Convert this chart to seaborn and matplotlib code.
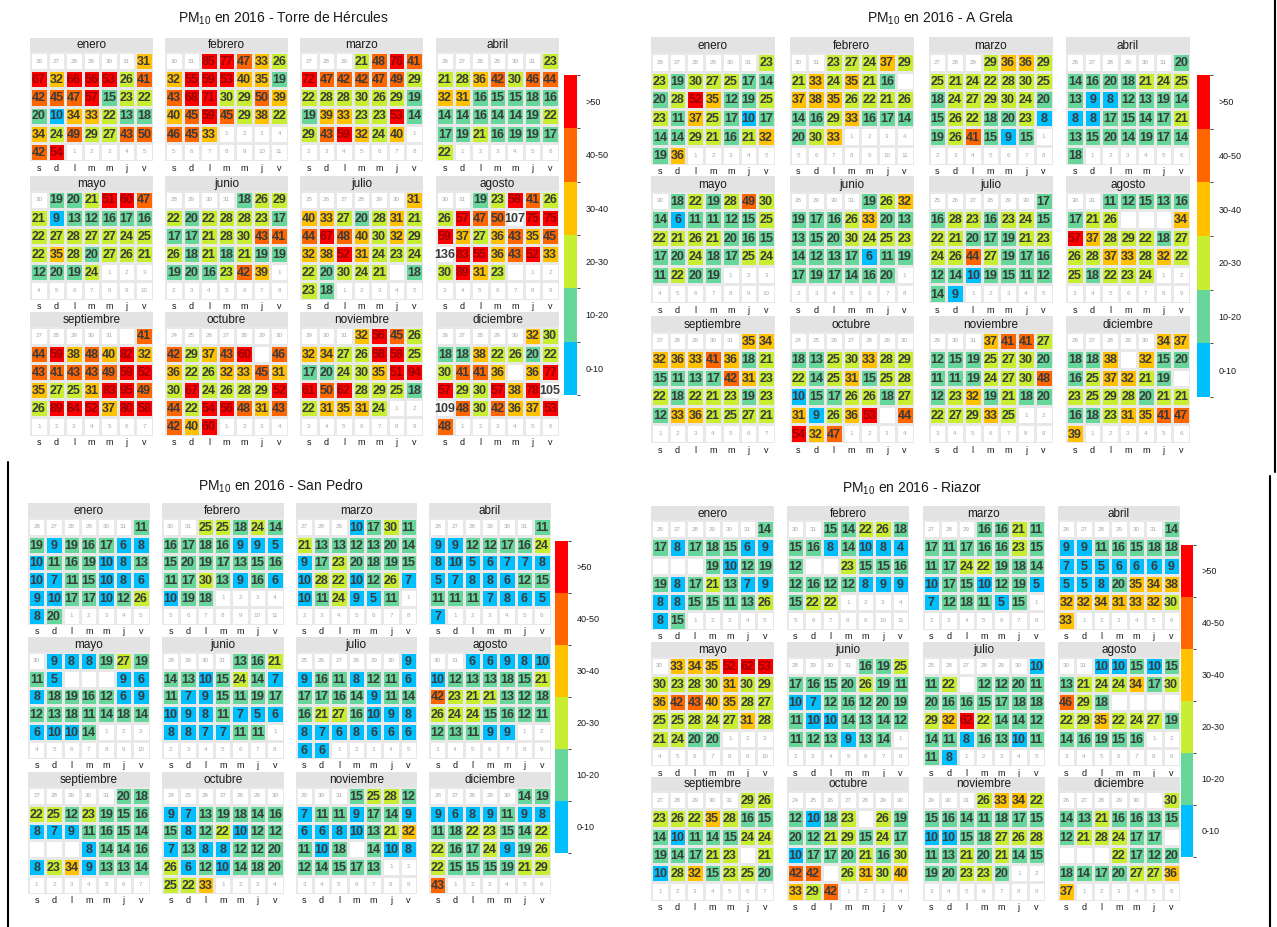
import datetime as dt
import numpy as np
import matplotlib
matplotlib.use('Agg')
import matplotlib.pyplot as plt
from matplotlib.colors import ListedColormap, BoundaryNorm
from matplotlib.cm import ScalarMappable
from matplotlib.lines import Line2D
import seaborn as sns

N = None  # dia sin dato

MESES = ['enero', 'febrero', 'marzo', 'abril', 'mayo', 'junio', 'julio',
         'agosto', 'septiembre', 'octubre', 'noviembre', 'diciembre']
DIAS = ['s', 'd', 'l', 'm', 'm', 'j', 'v']
RANGOS = ['0-10', '10-20', '20-30', '30-40', '40-50', '>50']
COLORES = ['#00BFFF', '#66D69A', '#C8EE32', '#FFC100', '#FF6600', '#FF0000']

# Torre de Hércules
t_ene = [31, 67, 32, 66, 56, 53, 26, 41, 42, 45, 47, 57, 15, 23, 22, 20, 10, 34, 33, 22, 13, 18,
         34, 24, 49, 29, 27, 43, 50, 42, 54]
t_feb = [85, 77, 47, 33, 26, 32, 55, 59, 53, 40, 35, 19, 43, 68, 71, 30, 29, 50, 39,
         40, 45, 59, 45, 29, 38, 22, 46, 45, 33]
t_mar = [21, 48, 76, 41, 72, 47, 42, 42, 47, 49, 29, 22, 28, 28, 30, 26, 29, 19,
         19, 39, 33, 23, 23, 53, 14, 29, 43, 59, 32, 24, 40]
t_abr = [23, 21, 28, 36, 42, 30, 46, 44, 32, 31, 16, 15, 15, 18, 16, 14, 14, 16, 14, 14, 19, 22,
         17, 19, 21, 16, 19, 19, 17, 22]
t_may = [19, 20, 21, 51, 60, 47, 21, 9, 13, 12, 16, 17, 16, 22, 27, 28, 27, 27, 24, 25,
         22, 35, 28, 20, 27, 26, 21, 12, 20, 19, 24]
t_jun = [18, 26, 29, 22, 20, 22, 28, 28, 23, 17, 17, 17, 21, 28, 30, 43, 41,
         26, 18, 21, 18, 21, 19, 19, 19, 20, 16, 23, 42, 39]
t_jul = [31, 40, 33, 27, 20, 28, 31, 21, 44, 67, 48, 40, 30, 32, 29, 32, 38, 52, 31, 24, 23, 24,
         22, 20, 30, 24, 21, N, 18, 23, 18]
t_ago = [19, 23, 58, 41, 26, 26, 57, 47, 50, 107, 75, 75, 59, 37, 27, 36, 43, 35, 45,
         136, 83, 55, 36, 43, 52, 33, 30, 89, 31, 23, N]
t_sep = [N, 41, 44, 59, 38, 48, 40, 82, 32, 43, 41, 43, 43, 49, 59, 52,
         35, 27, 25, 31, 83, 95, 49, 26, 89, 84, 52, 37, 80, 58]
t_oct = [42, 29, 37, 43, 60, N, 46, 36, 22, 26, 32, 33, 45, 31, 30, 67, 24, 26, 28, 29, 52,
         44, 22, 54, 56, 48, 31, 43, 42, 40, 60]
t_nov = [32, 56, 45, 26, 32, 34, 27, 26, 58, 58, 25, 17, 20, 24, 30, 35, 51, 94,
         61, 50, 62, 28, 29, 25, 18, 22, 31, 35, 31, 24]
t_dic = [32, 30, 18, 18, 38, 22, 26, 20, 22, 30, 41, 41, 36, N, 36, 77,
         57, 29, 30, 57, 38, 78, 105, 109, 48, 30, 42, 36, 37, 53, 48]

# A Grela
g_ene = [23, 23, 19, 30, 27, 25, 17, 14, 20, 28, 52, 35, 12, 19, 25, 23, 11, 37, 25, 17, 10, 17,
         14, 14, 29, 21, 16, 21, 32, 19, 36]
g_feb = [23, 27, 24, 37, 29, 21, 33, 24, 35, 21, 16, N, 37, 38, 35, 26, 22, 21, 26,
         14, 16, 29, 33, 16, 17, 14, 20, 30, 33]
g_mar = [29, 36, 36, 29, 25, 21, 24, 22, 28, 30, 25, 18, 24, 27, 29, 30, 24, 20,
         15, 26, 22, 18, 20, 23, 8, 19, 26, 41, 15, 9, 15]
g_abr = [20, 14, 16, 20, 18, 21, 24, 25, 13, 9, 8, 12, 13, 19, 14, 8, 8, 17, 15, 14, 17, 21,
         13, 15, 20, 14, 19, 17, 14, 18]
g_may = [18, 22, 19, 28, 49, 30, 14, 6, 11, 11, 12, 15, 25, 22, 21, 26, 21, 20, 16, 15,
         17, 20, 24, 18, 17, 25, 24, 11, 22, 20, 19]
g_jun = [19, 26, 32, 19, 17, 16, 26, 33, 20, 13, 13, 15, 20, 30, 24, 25, 23,
         14, 12, 13, 17, 6, 11, 19, 17, 19, 17, 14, 16, 20]
g_jul = [17, 16, 28, 23, 16, 23, 24, 15, 22, 21, 20, 17, 19, 21, 23, 24, 26, 44, 27, 19, 17, 16,
         12, 14, 10, 19, 15, 11, 12, 14, 9]
g_ago = [11, 12, 15, 13, 16, 17, 21, 26, N, N, N, 34, 57, 37, 28, 29, 22, 18, 27,
         26, 28, 37, 33, 28, 32, 22, 25, 18, 22, 23, 24]
g_sep = [35, 34, 32, 36, 33, 41, 36, 18, 21, 15, 11, 13, 17, 42, 31, 23,
         22, 18, 22, 21, 23, 19, 23, 12, 33, 36, 21, 25, 27, 21]
g_oct = [18, 13, 25, 30, 33, 28, 29, 22, 14, 25, 31, 15, 25, 28, 10, 15, 17, 26, 26, 18, 27,
         31, 9, 26, 36, 53, N, 44, 54, 32, 47]
g_nov = [37, 41, 41, 27, 12, 15, 19, 25, 27, 30, 20, 11, 11, 19, 24, 27, 30, 48,
         12, 23, 32, 19, 21, 18, 20, 22, 27, 29, 33, 25]
g_dic = [34, 37, 18, 18, 38, N, 32, 15, 20, 16, 25, 37, 32, 21, 19, N,
         23, 25, 29, 28, 20, 21, 21, 16, 18, 23, 31, 35, 41, 47, 39]

# San Pedro
s_ene = [11, 19, 9, 19, 16, 17, 6, 8, 10, 11, 16, 19, 10, 8, 13, 10, 7, 11, 15, 10, 8, 6,
         9, 10, 17, 17, 10, 12, 26, 8, 20]
s_feb = [25, 25, 18, 24, 14, 16, 17, 18, 16, 9, 9, 5, 15, 20, 19, 17, 13, 15, 16,
         11, 17, 30, 13, 9, 16, 6, 10, 19, 18]
s_mar = [10, 17, 30, 11, 21, 13, 13, 12, 13, 20, 14, 9, 17, 23, 20, 18, 19, 15,
         10, 28, 22, 10, 12, 26, 7, 10, 11, 24, 9, 5, 11]
s_abr = [11, 9, 9, 12, 12, 17, 16, 24, 8, 10, 5, 6, 7, 7, 8, 5, 7, 8, 8, 6, 12, 15,
         11, 11, 11, 7, 8, 6, 5, 7]
s_may = [9, 8, 8, 19, 27, 19, 11, 5, N, N, N, 9, 6, 8, 18, 19, 16, 12, 6, 9,
         12, 13, 18, 11, 14, 18, 14, 6, 10, 10, 14]
s_jun = [13, 16, 21, 14, 13, 10, 15, 24, 14, 7, 11, 7, 9, 15, 11, 19, 17,
         10, 9, 8, 11, 7, 5, 6, 8, 8, 7, 7, 11, 11]
s_jul = [9, 9, 16, 11, 8, 12, 11, 6, 17, 17, 16, 14, 9, 11, 14, 16, 21, 27, 16, 10, 9, 8,
         8, 7, 6, 8, 6, 6, 6, 6, 6]
s_ago = [6, 6, 9, 8, 10, 10, 12, 13, 13, 18, 15, 21, 42, 23, 21, 21, 13, 12, 18,
         26, 24, 24, 15, 16, 12, 11, 12, 13, 11, 9, 9]
s_sep = [20, 18, 22, 25, 12, 23, 19, 15, 16, 8, 7, 9, 11, 16, 15, 14,
         N, N, N, 8, 14, 14, 16, 8, 23, 34, 9, 13, 13, 14]
s_oct = [9, 7, 13, 19, 18, 14, 16, 15, 8, 12, 22, 10, 12, 12, 7, 13, 8, 8, 12, 12, 20,
         26, 6, 12, 10, 14, 18, 20, 25, 22, 33]
s_nov = [15, 25, 28, 12, 7, 11, 11, 9, 17, 14, 9, 6, 6, 8, 10, 13, 21, 32,
         11, 10, 18, N, 14, 10, 8, 12, 14, 15, 17, 13]
s_dic = [14, 19, 9, 6, 8, 9, 11, 9, 8, 11, 18, 22, 23, 15, 14, 22,
         22, 16, 17, 24, 9, 19, 26, 22, 15, 15, 15, 19, 21, 29, 43]

# Riazor
r_ene = [14, 17, 8, 17, 18, 15, 6, 9, N, N, N, 19, 10, 12, 19, 19, 8, 17, 21, 13, 7, 9,
         8, 8, 15, 15, 11, 13, 26, 8, 15]
r_feb = [15, 14, 22, 26, 18, 15, 16, 8, 14, 10, 8, 4, 12, N, N, 23, 15, 15, 16,
         12, 16, 12, 12, 8, 9, 9, 15, 22, 22]
r_mar = [16, 16, 21, 11, 17, 11, 17, 16, 16, 23, 15, 11, 17, 24, 22, 19, 18, 14,
         10, 17, 15, 10, 12, 19, 5, 7, 12, 18, 11, 5, 15]
r_abr = [14, 9, 9, 11, 16, 15, 18, 18, 7, 5, 5, 6, 6, 6, 9, 5, 5, 8, 20, 35, 34, 38,
         32, 32, 34, 31, 33, 32, 30, 33]
r_may = [33, 34, 35, 52, 62, 53, 30, 23, 28, 30, 31, 30, 29, 36, 42, 43, 40, 35, 28, 27,
         25, 25, 28, 24, 27, 31, 28, 21, 24, 20, 20]
r_jun = [16, 19, 25, 17, 16, 15, 20, 26, 19, 11, 10, 7, 12, 16, 12, 20, 19,
         11, 10, 10, 14, 13, 14, 12, 11, 12, 13, 9, 13, 14]
r_jul = [10, 11, 22, N, 12, 12, 20, 11, 20, 16, 16, 15, 17, 18, 18, 29, 32, 62, 22, 14, 14, 12,
         14, 11, 8, 16, 13, 10, 11, 11, 8]
r_ago = [10, 10, 15, 10, 15, 13, 21, 24, 24, 34, 17, 30, 46, 29, 18, N, N, N, N,
         22, 29, 35, 22, 24, 27, 19, 14, 16, 19, 15, 16]
r_sep = [29, 26, 23, 26, 22, 35, 28, 16, 15, 14, 10, 11, 14, 15, 24, 24,
         19, 14, 17, 21, 23, N, 21, 10, 28, 32, 15, 23, 25, 20]
r_oct = [12, 10, 18, 23, N, 26, 19, 20, 12, 21, 29, 15, 24, 17, 10, 17, 17, 20, 21, 16, 30,
         42, 42, N, 26, 31, 30, 40, 33, 29, 42]
r_nov = [26, 33, 34, 22, 15, 16, 14, 11, 18, 17, 15, 10, 10, 15, 18, 27, 26, 28,
         11, 13, 21, 20, 21, 14, 15, 19, 20, 23, 23, 20]
r_dic = [N, 30, 14, 13, 21, 16, 16, 13, 15, 12, 21, 28, 24, 17, 17, N,
         N, N, N, 22, 17, 12, 20, 18, 14, 17, 20, 27, 27, 36, 37]

torre = [t_ene, t_feb, t_mar, t_abr, t_may, t_jun, t_jul, t_ago, t_sep, t_oct, t_nov, t_dic]
grela = [g_ene, g_feb, g_mar, g_abr, g_may, g_jun, g_jul, g_ago, g_sep, g_oct, g_nov, g_dic]
pedro = [s_ene, s_feb, s_mar, s_abr, s_may, s_jun, s_jul, s_ago, s_sep, s_oct, s_nov, s_dic]
riazor = [r_ene, r_feb, r_mar, r_abr, r_may, r_jun, r_jul, r_ago, r_sep, r_oct, r_nov, r_dic]

sns.set_style('white')
plt.rcParams['font.family'] = ['Liberation Sans', 'DejaVu Sans']

W, H = 1277, 927
fig = plt.figure(figsize=(W / 100, H / 100), dpi=100)
fig.patch.set_facecolor('white')

cmap7 = ListedColormap(COLORES + ['#FFFFFF'])


def add_ax(x, y, w, h):
    return fig.add_axes([x / W, 1 - (y + h) / H, w / W, h / H])


def month_grid(month, values):
    first = dt.date(2016, month, 1)
    col = (first.weekday() - 5) % 7
    start = first - dt.timedelta(days=col if col else 7)
    ndays = ((dt.date(2016 + month // 12, month % 12 + 1, 1)) - first).days
    assert len(values) == ndays, (month, len(values))
    codes = np.full((6, 7), 6.0)
    cells = []
    for i in range(42):
        d = start + dt.timedelta(days=i)
        r, c = divmod(i, 7)
        if d.month != month:
            cells.append((r, c, str(d.day), 'otro'))
            continue
        v = values[d.day - 1]
        if v is None:
            continue
        if v <= 100:
            codes[r, c] = np.digitize(v, [10, 20, 30, 40, 50], right=True)
        cells.append((r, c, str(v), 'rojo' if 50 < v <= 100 else 'dato'))
    return codes, cells


def draw_month(x, y, w, hh, gh, month, values):
    strip = add_ax(x, y, w, hh)
    strip.set_facecolor('#E3E3E3')
    strip.set_xticks([])
    strip.set_yticks([])
    for s in strip.spines.values():
        s.set_visible(False)
    strip.text(0.5, 0.45, MESES[month - 1], ha='center', va='center', fontsize=8.5,
               color='#1A1A1A', transform=strip.transAxes)

    ax = add_ax(x, y + hh, w, gh)
    codes, cells = month_grid(month, values)
    sns.heatmap(codes, ax=ax, cmap=cmap7, vmin=-0.5, vmax=6.5, cbar=False,
                linewidths=0.9, linecolor='#E8E8E8', xticklabels=DIAS, yticklabels=False)
    ax.tick_params(length=0, labelsize=6.5, pad=2, colors='#1A1A1A')
    ax.set_xlabel('')
    ax.set_ylabel('')
    for r, c, txt, kind in cells:
        if kind == 'otro':
            ax.text(c + 0.5, r + 0.5, txt, ha='center', va='center', fontsize=4.5, color='#A8A8A8')
        else:
            ax.text(c + 0.5, r + 0.55, txt, ha='center', va='center', fontsize=9, fontweight='bold',
                    color='#9A0000' if kind == 'rojo' else '#3A3A3A')


def draw_cbar(x, y, w, h):
    cax = add_ax(x, y, w, h)
    sm = ScalarMappable(norm=BoundaryNorm(np.arange(7), 6), cmap=ListedColormap(COLORES))
    cb = fig.colorbar(sm, cax=cax, ticks=np.arange(6) + 0.5)
    cb.set_ticklabels(RANGOS)
    cb.outline.set_visible(False)
    cax.tick_params(length=0, labelsize=6.5, pad=6, colors='#1A1A1A')


paneles = [
    ('Torre de Hércules', torre, [30, 165, 300, 436], 123, [37.5, 176, 312], 14.5, 109,
     (564, 75, 13, 320), (283, 18)),
    ('A Grela', grela, [651, 789.5, 928.5, 1066], 124, [37.5, 176, 316], 15.5, 111.5,
     (1197, 75, 13, 322), (941, 18)),
    ('San Pedro', pedro, [28, 162, 295.5, 429], 121.5, [503, 637, 772], 15, 106.5,
     (555, 541, 13, 312), (281, 486)),
    ('Riazor', riazor, [651, 786.7, 922.5, 1057.5], 122.5, [505.7, 642, 776.5], 14.5, 109.5,
     (1181, 545, 12, 312), (912, 488)),
]

for nombre, datos, xs, w, ys, hh, gh, cbox, tpos in paneles:
    for m in range(12):
        fila, colm = divmod(m, 4)
        draw_month(xs[colm], ys[fila], w, hh, gh, m + 1, datos[m])
    draw_cbar(*cbox)
    fig.text(tpos[0] / W, 1 - tpos[1] / H, 'PM$_{\\mathregular{10}}$ en 2016 - ' + nombre,
             ha='center', va='center', fontsize=10, color='#1A1A1A')

# bordes de las capturas originales
for xa, ya, xb, yb in [(1275, 0, 1275, 472), (8, 462, 8, 927), (1270, 476, 1270, 927)]:
    fig.add_artist(Line2D([xa / W, xb / W], [1 - ya / H, 1 - yb / H], color='black', lw=1.5))

fig.savefig('out.png', dpi=100, facecolor='white')
